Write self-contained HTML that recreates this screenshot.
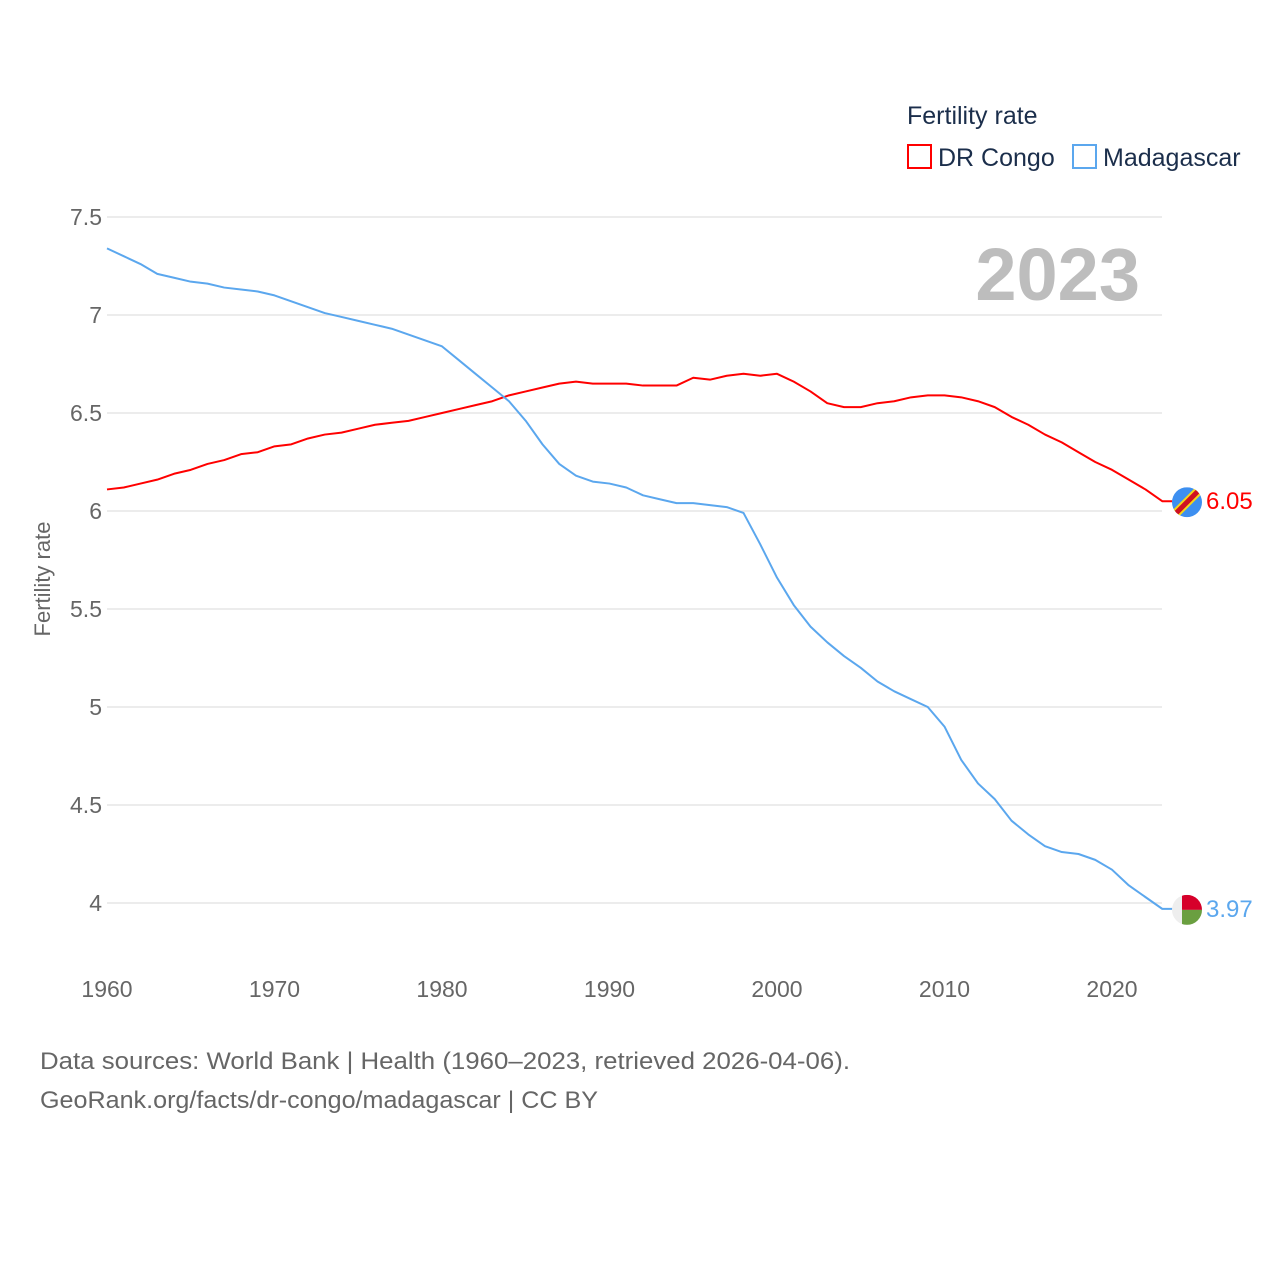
<!DOCTYPE html>
<html><head><meta charset="utf-8"><style>
body{margin:0;background:#fff;width:1280px;height:1280px;overflow:hidden;font-family:"Liberation Sans",sans-serif}
</style></head><body>
<svg id="chart" width="1280" height="1280" xmlns="http://www.w3.org/2000/svg">
<g id="grid"></g>
<g id="yticks"></g>
<g id="xticks"></g>
<text x="50" y="579" transform="rotate(-90 50 579)" text-anchor="middle" font-size="22" fill="#666">Fertility rate</text>
<text x="1140" y="300" text-anchor="end" font-size="74" font-weight="bold" fill="#bdbdbd">2023</text>
<text x="907" y="124" font-size="25" fill="#1b2e4b">Fertility rate</text>
<g>
<rect x="908" y="145" width="23" height="23" fill="none" stroke="#ff0000" stroke-width="2"/>
<text x="938" y="166" font-size="25" fill="#1b2e4b">DR Congo</text></g>
<g>
<rect x="1073" y="145" width="23" height="23" fill="none" stroke="#5ba7ee" stroke-width="2"/>
<text x="1103" y="166" font-size="25" fill="#1b2e4b">Madagascar</text></g>
<g id="series"></g>
<text x="40" y="1069" font-size="24" fill="#666" textLength="810" lengthAdjust="spacingAndGlyphs">Data sources: World Bank | Health (1960–2023, retrieved 2026-04-06).</text>
<text x="40" y="1108" font-size="24" fill="#666" textLength="558" lengthAdjust="spacingAndGlyphs">GeoRank.org/facts/dr-congo/madagascar | CC BY</text>
</svg>
<script>
const years=[];for(let y=1960;y<=2023;y++)years.push(y);
const drCongo=[6.11,6.12,6.14,6.16,6.19,6.21,6.24,6.26,6.29,6.30,6.33,6.34,6.37,6.39,6.40,6.42,6.44,6.45,6.46,6.48,6.50,6.52,6.54,6.56,6.59,6.61,6.63,6.65,6.66,6.65,6.65,6.65,6.64,6.64,6.64,6.68,6.67,6.69,6.70,6.69,6.70,6.66,6.61,6.55,6.53,6.53,6.55,6.56,6.58,6.59,6.59,6.58,6.56,6.53,6.48,6.44,6.39,6.35,6.30,6.25,6.21,6.16,6.11,6.05];
const madagascar=[7.34,7.30,7.26,7.21,7.19,7.17,7.16,7.14,7.13,7.12,7.10,7.07,7.04,7.01,6.99,6.97,6.95,6.93,6.90,6.87,6.84,6.77,6.70,6.63,6.56,6.46,6.34,6.24,6.18,6.15,6.14,6.12,6.08,6.06,6.04,6.04,6.03,6.02,5.99,5.83,5.66,5.52,5.41,5.33,5.26,5.20,5.13,5.08,5.04,5.00,4.90,4.73,4.61,4.53,4.42,4.35,4.29,4.26,4.25,4.22,4.17,4.09,4.03,3.97];
const yTicks=[4,4.5,5,5.5,6,6.5,7,7.5];
const xTicks=[1960,1970,1980,1990,2000,2010,2020];
const NS="http://www.w3.org/2000/svg";
const xs=v=>107+(v-1960)*16.75;
const ys=v=>903-(v-4)*196;
function mk(t,a,p){const e=document.createElementNS(NS,t);for(const k in a)e.setAttribute(k,a[k]);p.appendChild(e);return e;}
const grid=document.getElementById('grid'),yt=document.getElementById('yticks'),xt=document.getElementById('xticks'),ser=document.getElementById('series');
yTicks.forEach(v=>{
 const l=mk('line',{x1:107,x2:1162,y1:ys(v),y2:ys(v),stroke:'#e6e6e6','stroke-width':1.5},grid);
 
 
 const t=mk('text',{x:102,y:ys(v)+8,'text-anchor':'end','font-size':23,fill:'#666'},yt);
 t.textContent=String(v);
 
 
});
xTicks.forEach(v=>{
 const t=mk('text',{x:xs(v),y:997,'text-anchor':'middle','font-size':23,fill:'#666'},xt);
 t.textContent=String(v);
 
 
});
function series(vals,color,name){
 const pts=vals.map((v,i)=>xs(years[i])+','+ys(v)).join(' ');
 const last=vals[vals.length-1],lx=xs(years[years.length-1]),ly=ys(last);
 const p=mk('polyline',{points:pts+' '+(lx+10)+','+ly,fill:'none',stroke:color,'stroke-width':2,'stroke-linejoin':'round'},ser);
 
 
 const lab=mk('text',{x:1206,y:ly+8,'font-size':24,fill:color},ser);
 lab.textContent=last.toFixed(2);
 
 
 return ly;
}
const y1=series(drCongo,'#ff0000','dr-congo');
const y2=series(madagascar,'#5ba7ee','madagascar');
const f1=mk('g',{},ser);


const cp1=mk('clipPath',{id:'c1'},f1);mk('circle',{cx:1187,cy:y1+1,r:15},cp1);
const g1=mk('g',{'clip-path':'url(#c1)'},f1);
mk('rect',{x:1172,y:y1-14,width:30,height:30,fill:'#3d8ff0'},g1);
mk('line',{x1:1170,y1:y1+18,x2:1204,y2:y1-16,stroke:'#f7d618','stroke-width':9},g1);
mk('line',{x1:1170,y1:y1+18,x2:1204,y2:y1-16,stroke:'#ce1021','stroke-width':5},g1);
const f2=mk('g',{},ser);


const cp=mk('clipPath',{id:'c2'},f2);mk('circle',{cx:1187,cy:y2+1,r:15},cp);
const g2=mk('g',{'clip-path':'url(#c2)'},f2);
mk('rect',{x:1172,y:y2-14,width:30,height:30,fill:'#eeeeee'},g2);
mk('rect',{x:1182,y:y2-14,width:20,height:15,fill:'#d6002a'},g2);
mk('rect',{x:1182,y:y2+1,width:20,height:15,fill:'#6a9f40'},g2);
</script>
</body></html>
